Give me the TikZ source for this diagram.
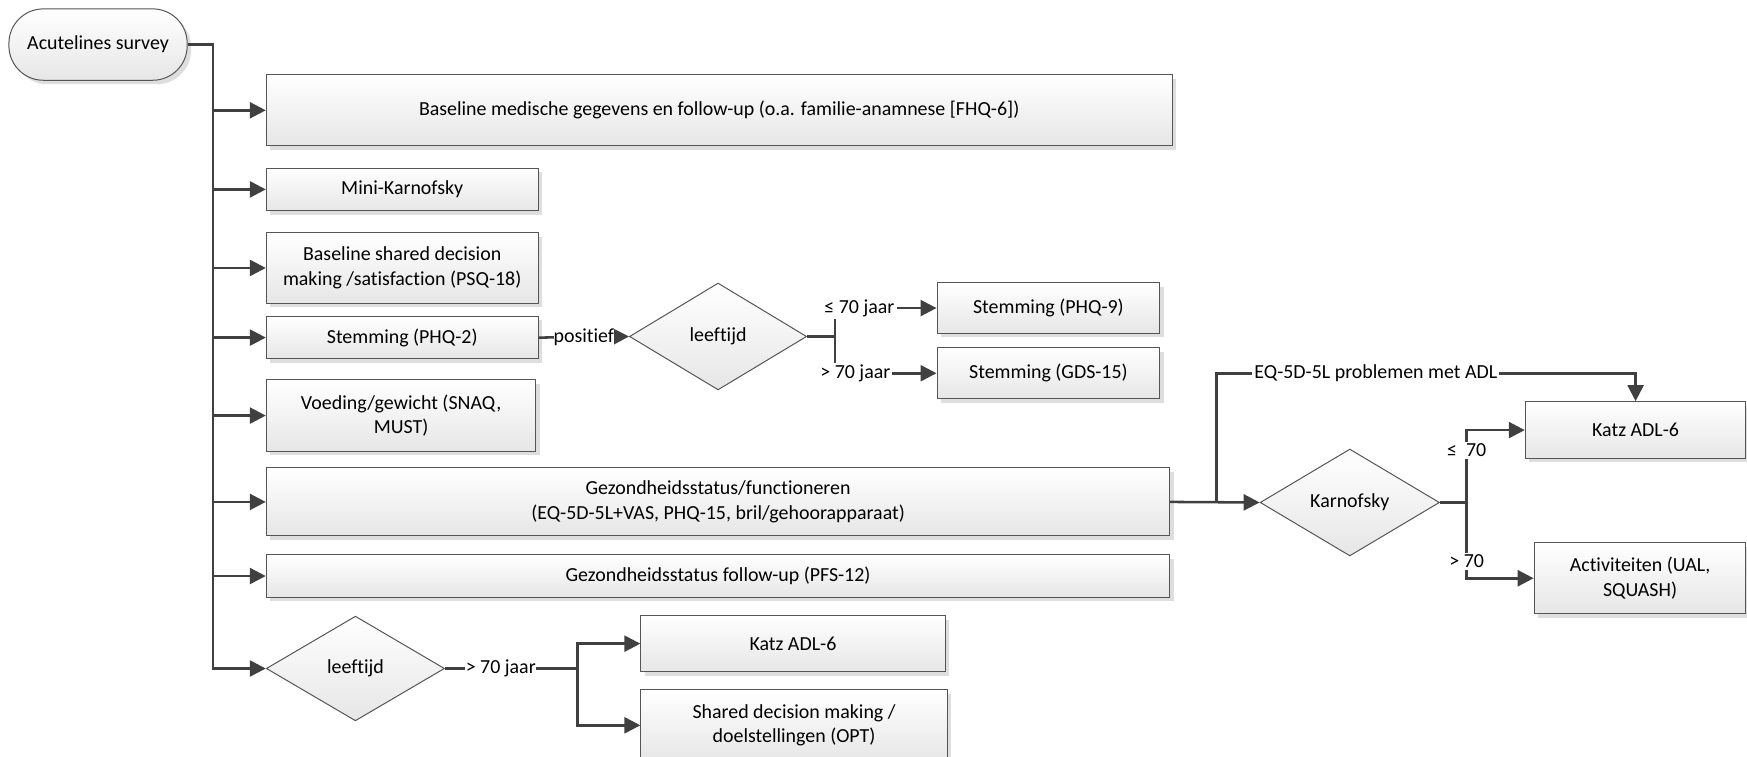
\documentclass[tikz,border=0pt]{standalone}
\usepackage{fontspec}
\setmainfont{Carlito}[Ligatures=NoCommon]
\usepackage{tikz}
\usetikzlibrary{arrows.meta,shapes.geometric,shadows}
\definecolor{flowgray}{RGB}{64,64,64}
\definecolor{boxline}{RGB}{85,85,85}
\definecolor{boxshade}{RGB}{230,230,230}
\definecolor{shadowgray}{RGB}{222,222,222}

\tikzset{
  txt/.style={font=\fontsize{11}{13.5}\selectfont},
  box/.style={txt, draw=boxline, line width=0.55pt, top color=white, bottom color=boxshade,
    align=center, inner sep=0pt,
    general shadow={shadow xshift=2.2pt, shadow yshift=-2.2pt, fill=shadowgray}},
  term/.style={box, rounded corners=19pt},
  choice/.style={txt, diamond, aspect=1.65, draw=boxline, line width=0.55pt,
    top color=white, bottom color=boxshade, inner sep=0pt},
  conn/.style={draw=flowgray, line width=1.4pt},
  arr/.style={conn, -{Triangle[length=8.8pt,width=8.8pt]}},
  lbl/.style={txt, fill=white, inner sep=1.2pt}
}

\begin{document}
\begin{tikzpicture}[x=0.615pt,y=-0.615pt]
\useasboundingbox (0,0) rectangle (1568,679);

% start
\node[term, minimum width=98.4pt, minimum height=39.4pt] (survey) at (88,40) {Acutelines survey};

% questionnaires on the main line
\node[box, minimum width=500pt, minimum height=39.4pt] (medisch) at (645.5,99)
  {Baseline medische gegevens en follow-up (o.a. familie-anamnese [FHQ-6])};
\node[box, minimum width=150pt, minimum height=23.4pt] (karnmini) at (361,170) {Mini-Karnofsky};
\node[box, minimum width=150pt, minimum height=38.7pt] (sdmbase) at (361,240.5)
  {Baseline shared decision\\making /satisfaction (PSQ-18)};
\node[box, minimum width=150pt, minimum height=23.4pt] (phq2) at (361,303) {Stemming (PHQ-2)};
\node[box, minimum width=148.8pt, minimum height=39.4pt] (voeding) at (360,373)
  {Voeding/gewicht (SNAQ,\\MUST)};
\node[box, minimum width=498.8pt, minimum height=37.5pt] (gezstatus) at (644.5,450.5)
  {Gezondheidsstatus/functioneren\\(EQ-5D-5L+VAS, PHQ-15, bril/gehoorapparaat)};
\node[box, minimum width=498.8pt, minimum height=23.4pt] (pfs) at (644.5,517)
  {Gezondheidsstatus follow-up (PFS-12)};
\node[choice, minimum width=98.4pt, minimum height=57.8pt] (age2) at (319,600) {leeftijd};

% mood branch
\node[choice, minimum width=97.8pt, minimum height=59pt] (age1) at (644.5,302) {leeftijd};
\node[box, minimum width=123pt, minimum height=27.7pt] (phq9) at (941,276.5) {Stemming (PHQ-9)};
\node[box, minimum width=123pt, minimum height=28.3pt] (gds) at (941,335) {Stemming (GDS-15)};

% ADL branch
\node[choice, minimum width=99pt, minimum height=59pt] (karn) at (1211.5,451) {Karnofsky};
\node[box, minimum width=121.8pt, minimum height=31.4pt] (katzA) at (1468,386) {Katz ADL-6};
\node[box, minimum width=116.9pt, minimum height=39.4pt] (activ) at (1472,519)
  {Activiteiten (UAL,\\SQUASH)};

% elderly branch
\node[box, minimum width=167.9pt, minimum height=30.8pt] (katzB) at (711.7,577.7) {Katz ADL-6};
\node[box, minimum width=169.1pt, minimum height=39.4pt] (sdm) at (712.7,651)
  {Shared decision making /\\doelstellingen (OPT)};

% main line
\coordinate (trunk) at (191,40);
\draw[arr] (survey.east) -- (trunk) |- (age2.west);
\foreach \b in {medisch,karnmini,sdmbase,phq2,voeding,gezstatus,pfs}
  \draw[arr] (trunk |- \b.west) -- (\b.west);

% mood
\draw[arr] (phq2.east) -- node[lbl, inner sep=0pt]{positief} (age1.west);
\draw[arr] (age1.east) -- ++(25,0) coordinate (split1) |- node[lbl,pos=0.62]{≤ 70 jaar} (phq9.west);
\draw[arr] (split1) |- node[lbl,pos=0.6]{> 70 jaar} (gds.west);

% ADL
\coordinate (adl) at (1092,335);
\draw[arr] (gezstatus.east) -- (karn.west);
\draw[arr] (gezstatus.east) -| (adl) -| node[lbl,pos=0.19]{EQ-5D-5L problemen met ADL} (katzA.north);
\draw[arr] (karn.east) -- ++(24,0) coordinate (split2) |- node[lbl,pos=0.36]{≤\ \ 70} (katzA.west);
\draw[arr] (split2) |- node[lbl,pos=0.39]{> 70} (activ.west);

% age > 70
\draw[conn] (age2.east) -- node[lbl,pos=0.42,inner sep=0.3pt]{> 70 jaar} ++(119,0) coordinate (split3);
\draw[arr] (split3) |- (katzB.west);
\draw[arr] (split3) |- (sdm.west);
\end{tikzpicture}
\end{document}
